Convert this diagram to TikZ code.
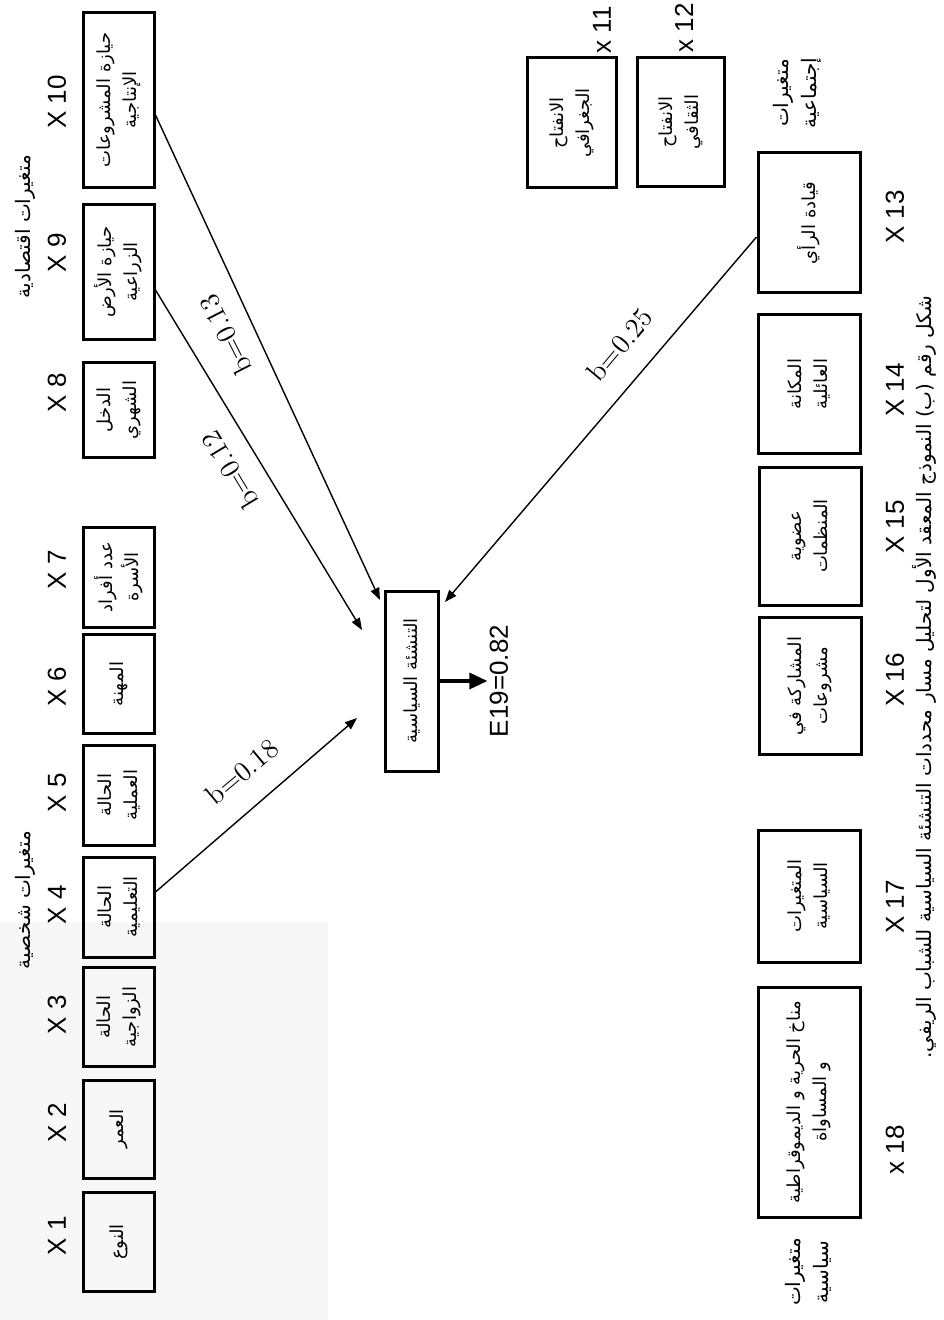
\documentclass[tikz,border=0pt]{standalone}
\usepackage{fontspec}
\newfontfamily\arabicfont[Script=Arabic]{DejaVu Sans}
\newfontfamily\arial{Liberation Sans}
\TeXXeTstate=1
\usetikzlibrary{arrows.meta,calc}
\newcommand{\AR}[1]{\beginR#1\endR}
\begin{document}
\begin{tikzpicture}[x=0.5pt,y=-0.5pt,
  box/.style={draw, line width=1.5pt, rotate=90, inner sep=0pt, align=center,
    font=\arabicfont\fontsize{9}{13}\selectfont},
  xlab/.style={rotate=90, font=\arial\fontsize{13}{15}\selectfont, inner sep=1pt},
  grp/.style={rotate=90, align=center, font=\arabicfont\fontsize{10}{14}\selectfont, inner sep=1pt},
  conn/.style={line width=0.7pt, -{Triangle[length=6pt,width=4.5pt]}},
  bigarrow/.style={line width=1.6pt, -{Triangle[length=9pt,width=8pt]}},
  blab/.style={font=\fontsize{14}{16}\selectfont, inner sep=1pt},
]
\useasboundingbox (0,0) rectangle (943,1320);
\fill[black!3] (0,922) rectangle (328,1320);

% left column boxes
\node[box, minimum height=35.5pt, minimum width=49.5pt] (x1) at (118.5,1242) {\AR{النوع}};
\node[box, minimum height=35.5pt, minimum width=49pt] (x2) at (118.5,1129) {\AR{العمر}};
\node[box, minimum height=35.5pt, minimum width=49.5pt] (x3) at (118.5,1017) {\AR{الحالة}\\\AR{الزواجية}};
\node[box, minimum height=35.5pt, minimum width=50pt] (x4) at (118.5,907) {\AR{الحالة}\\\AR{التعليمية}};
\node[box, minimum height=35.5pt, minimum width=50pt] (x5) at (118.5,795) {\AR{الحالة}\\\AR{العملية}};
\node[box, minimum height=35.5pt, minimum width=49.5pt] (x6) at (118.5,684) {\AR{المهنة}};
\node[box, minimum height=35.5pt, minimum width=50pt] (x7) at (118.5,577) {\AR{عدد أفراد}\\\AR{الأسرة}};
\node[box, minimum height=35.5pt, minimum width=47.5pt] (x8) at (118.5,410) {\AR{الدخل}\\\AR{الشهري}};
\node[box, minimum height=35.5pt, minimum width=67.5pt] (x9) at (118.5,272) {\AR{حيازة الأرض}\\\AR{الزراعية}};
\node[box, minimum height=35.5pt, minimum width=87.5pt] (x10) at (118.5,100) {\AR{حيازة المشروعات}\\\AR{الإنتاجية}};

% left labels
\node[xlab] (l1) at (57,1236) {X 1};
\node[xlab] (l2) at (57,1123) {X 2};
\node[xlab] (l3) at (57,1015) {X 3};
\node[xlab] (l4) at (57,905) {X 4};
\node[xlab] (l5) at (57,793) {X 5};
\node[xlab] (l6) at (57,687) {X 6};
\node[xlab] (l7) at (57,570) {X 7};
\node[xlab] (l8) at (57,393) {X 8};
\node[xlab] (l9) at (57,253) {X 9};
\node[xlab] (l10) at (57,102) {X 10};

\node[grp] (g1) at (25,900) {\AR{متغيرات شخصية}};
\node[grp] (g2) at (25,227) {\AR{متغيرات اقتصادية}};

% top-right boxes
\node[box, minimum height=44.5pt, minimum width=65pt] (x11) at (572,123) {\AR{الانفتاح}\\\AR{الجغرافي}};
\node[box, minimum height=43.5pt, minimum width=64.5pt] (x12) at (681,122) {\AR{الانفتاح}\\\AR{الثقافي}};
\node[xlab] (l11) at (602,30) {x 11};
\node[xlab] (l12) at (684,28) {x 12};
\node[grp] (g3) at (797,93) {\AR{متغيرات}\\\AR{إجتماعية}};

% right column boxes
\node[box, minimum height=51pt, minimum width=70pt] (x13) at (809,223) {\AR{قيادة الرأي}};
\node[box, minimum height=51pt, minimum width=69pt] (x14) at (809,384) {\AR{المكانة}\\\AR{العائلية}};
\node[box, minimum height=51pt, minimum width=69pt] (x15) at (810,536) {\AR{عضوية}\\\AR{المنظمات}};
\node[box, minimum height=51pt, minimum width=68.5pt] (x16) at (810,686) {\AR{المشاركة في}\\\AR{مشروعات}};
\node[box, minimum height=51pt, minimum width=66pt] (x17) at (809,896) {\AR{المتغيرات}\\\AR{السياسية}};
\node[box, minimum height=51pt, minimum width=115pt] (x18) at (809,1102) {\AR{مناخ الحرية و الديموقراطية}\\\AR{و المساواة}};

\node[xlab] (l13) at (895,217) {X 13};
\node[xlab] (l14) at (895,390) {X 14};
\node[xlab] (l15) at (895,527) {X 15};
\node[xlab] (l16) at (895,680) {X 16};
\node[xlab] (l17) at (895,907) {X 17};
\node[xlab] (l18) at (895,1150) {x 18};
\node[grp] (g4) at (808,1272) {\AR{متغيرات}\\\AR{سياسية}};

\node[grp] (cap) at (924,677) {\AR{شكل رقم (ب) النموذج المعقد الأول لتحليل مسار محددات التنشئة السياسية للشباب الريفي.}};

% central node
\node[box, minimum height=26.5pt, minimum width=90pt] (c) at (411.5,681) {\AR{التنشئة السياسية}};
\node[xlab] (e19) at (499,681) {E19=0.82};
\draw[bigarrow] (c.south) -- (e19.north);

% connector ends
\coordinate (t10) at (380,600);
\coordinate (t9) at (362,630);
\coordinate (t4) at (357,718);
\coordinate (t13) at (445,602);

\draw[conn] ($(x10.south)+(0,15)$) -- (t10);
\draw[conn] ($(x9.south)+(0,18)$) -- (t9);
\draw[conn] ($(x4.south)+(0,-15)$) -- (t4);
\draw[conn] ($(x13.north)+(0,14)$) -- (t13);

\node[blab, rotate=117] (b13) at (226,335) {b=0.13};
\node[blab, rotate=121] (b12) at (230,470) {b=0.12};
\node[blab, rotate=40] (b18) at (242,772) {b=0.18};
\node[blab, rotate=50] (b25) at (620,345) {b=0.25};
\end{tikzpicture}
\end{document}
